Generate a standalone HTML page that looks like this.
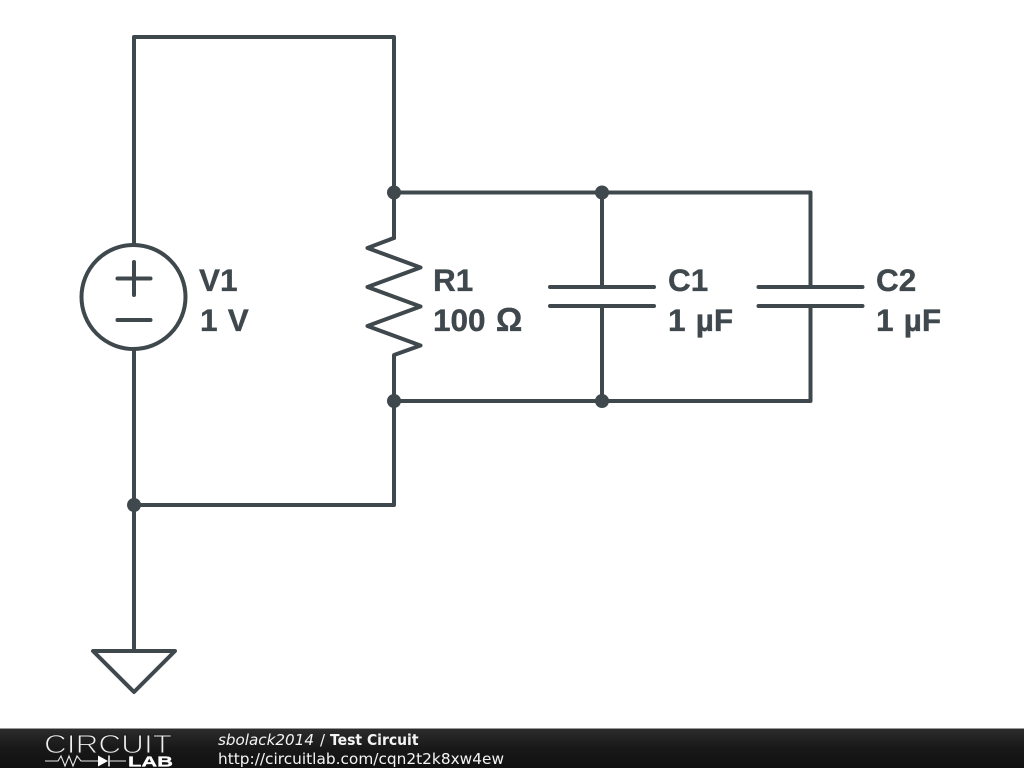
<!DOCTYPE html>
<html>
<head>
<meta charset="utf-8">
<style>
html,body{margin:0;padding:0;background:#fff;width:1024px;height:768px;overflow:hidden}
svg{display:block}
.l{font-family:"Liberation Sans",sans-serif;font-weight:bold;font-size:31.5px;fill:#3f484d;stroke:#3f484d;stroke-width:.35px;word-spacing:1.5px}
.f{font-family:"DejaVu Sans",sans-serif;font-size:15px;fill:#f4f4f4}
</style>
</head>
<body>
<svg width="1024" height="768" viewBox="0 0 1024 768" xmlns="http://www.w3.org/2000/svg">
<defs>
<linearGradient id="g" x1="0" y1="0" x2="0" y2="1">
<stop offset="0" stop-color="#2c2c2c"/>
<stop offset="0.5" stop-color="#181818"/>
<stop offset="1" stop-color="#111"/>
</linearGradient>
</defs>
<rect width="1024" height="768" fill="#fff"/>
<g fill="none" stroke="#3f484d" stroke-width="4" stroke-linecap="round" stroke-linejoin="round">
<path d="M134 245V37H394V238"/>
<path d="M394 238L367.500 248L420.500 267.500L367.500 287L420.500 306.500L367.500 326L420.500 345.500L394 355V505H134"/>
<path d="M394 192.500H810.500V287"/>
<path d="M394 401H810.500V306"/>
<path d="M602 192.500V287M602 306V401"/>
<path d="M550 287H654M550 306H654M758.500 287H862.500M758.500 306H862.500"/>
<circle cx="133.500" cy="297" r="52"/>
<path d="M134 349V650"/>
<path d="M117.500 278.500H150.500M134 262V295M117.500 320H150.500"/>
<path d="M93 651H175L134 692Z"/>
</g>
<g fill="#3f484d">
<circle cx="394" cy="192.500" r="7"/>
<circle cx="602" cy="192.500" r="7"/>
<circle cx="394" cy="401" r="7"/>
<circle cx="602" cy="401" r="7"/>
<circle cx="134" cy="505" r="7"/>
</g>
<text class="l" x="199" y="291">V1</text>
<text class="l" x="200" y="331">1 V</text>
<text class="l" x="433" y="291">R1</text>
<text class="l" x="433" y="331">100 <tspan font-size="33">Ω</tspan></text>
<text class="l" x="668" y="291">C1</text>
<text class="l" x="668" y="331">1 µF</text>
<text class="l" x="876" y="291">C2</text>
<text class="l" x="876" y="331">1 µF</text>

<rect x="0" y="728" width="1024" height="1" fill="#999"/>
<rect x="0" y="729" width="1024" height="39" fill="url(#g)"/>
<text x="44" y="753" font-family="Liberation Sans, sans-serif" font-size="26" fill="#f0f0f0" stroke="#1e1e1e" stroke-width="1" textLength="128" lengthAdjust="spacingAndGlyphs">CIRCUIT</text>
<path d="M45 761H58L61 756L65 766L69 756L73 766L77 756L81 761H98M110 761H126" fill="none" stroke="#e8e8e8" stroke-width="1.100"/>
<path d="M98 755.500L108 761L98 766.500Z" fill="#fff"/>
<path d="M109 755.500V766.500" stroke="#fff" stroke-width="1.500"/>
<text x="128" y="766.500" font-family="Liberation Sans, sans-serif" font-weight="bold" font-size="15" fill="#fff" stroke="#fff" stroke-width="0.300" textLength="45" lengthAdjust="spacingAndGlyphs">LAB</text>
<text class="f" x="218" y="745" font-style="oblique" textLength="96" lengthAdjust="spacingAndGlyphs">sbolack2014</text>
<text class="f" x="320" y="745">/</text>
<text class="f" x="330" y="745" font-weight="bold" textLength="88.500" lengthAdjust="spacingAndGlyphs">Test Circuit</text>
<text class="f" x="218" y="764" textLength="286" lengthAdjust="spacingAndGlyphs">http://circuitlab.com/cqn2t2k8xw4ew</text>
</svg>
</body>
</html>
